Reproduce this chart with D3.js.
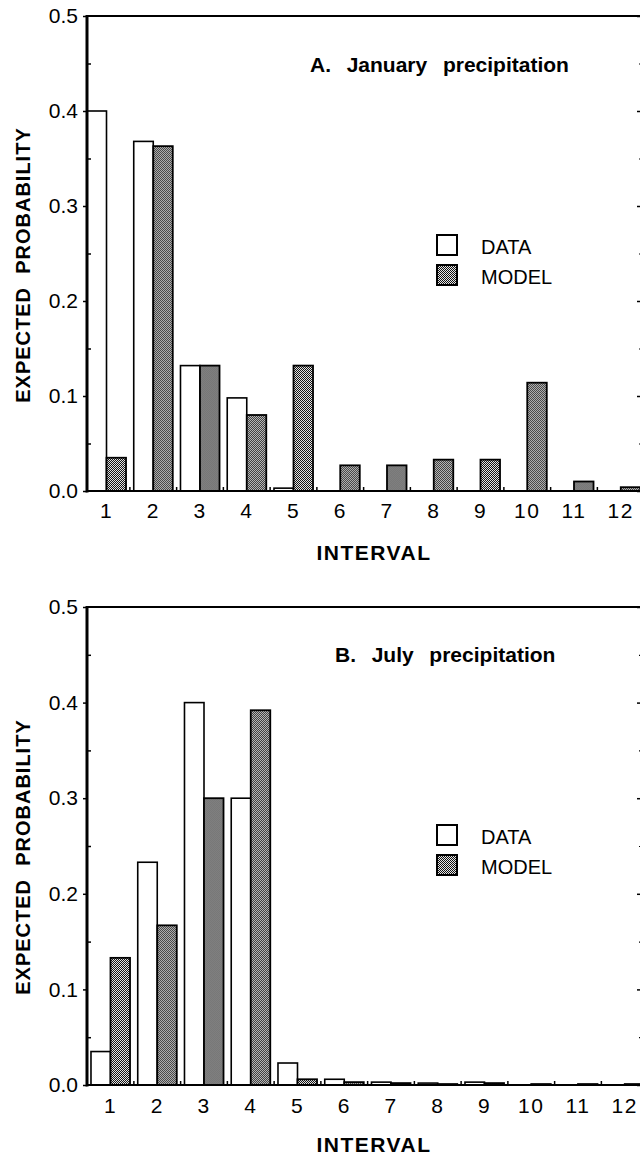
<!DOCTYPE html>
<html>
<head>
<meta charset="utf-8">
<script src="https://cdn.jsdelivr.net/npm/d3@7/dist/d3.min.js"></script>
<style>
  html, body { margin: 0; padding: 0; background: #fff; }
  svg { display: block; font-family: "Liberation Sans", Arial, Helvetica, sans-serif; }
  text { white-space: pre; }
</style>
</head>
<body>
<svg id="chart" width="640" height="1155"></svg>
<script>
// Interval categories shared by both panels
const intervals = [1, 2, 3, 4, 5, 6, 7, 8, 9, 10, 11, 12];

// A. January precipitation: observed and modelled expected probabilities
const janData  = [0.400, 0.368, 0.132, 0.098, 0.003, 0, 0, 0, 0, 0, 0, 0];
const janModel = [0.035, 0.363, 0.132, 0.080, 0.132, 0.027, 0.027, 0.033, 0.033, 0.114, 0.010, 0.004];

// B. July precipitation: observed and modelled expected probabilities
const julData  = [0.035, 0.233, 0.400, 0.300, 0.023, 0.006, 0.003, 0.002, 0.003, 0, 0, 0];
const julModel = [0.133, 0.167, 0.300, 0.392, 0.006, 0.003, 0.002, 0.001, 0.002, 0.001, 0.001, 0.001];

// Axis ticks
const yTicks = [0.0, 0.1, 0.2, 0.3, 0.4, 0.5];
const yMinorTicks = [0.05, 0.15, 0.25, 0.35, 0.45];
const legendLabels = ["DATA", "MODEL"];

const panels = [
  { title: "A.  January  precipitation", data: janData, model: janModel,
    top: 16, bottom: 491, firstCenter: 106.5, titleX: 310, titleY: 72,
    legendTop: 235, tickLabelY: 518, intervalY: 560, yLabelCenter: 265 },
  { title: "B.  July  precipitation", data: julData, model: julModel,
    top: 607, bottom: 1085, firstCenter: 110.5, titleX: 335, titleY: 662,
    legendTop: 825, tickLabelY: 1113, intervalY: 1152, yLabelCenter: 857 }
];

const axisX = 87;      // left axis position
const rightX = 642;    // right frame position
const step = 46.75;    // spacing between interval groups
const padInner = 0.165;

const svg = d3.select("#chart");

// Stippled fill for the model bars
const defs = svg.append("defs");
const pat = defs.append("pattern")
  .attr("id", "stipple").attr("patternUnits", "userSpaceOnUse")
  .attr("width", 2).attr("height", 2);
pat.append("rect").attr("width", 2).attr("height", 2).attr("fill", "#e6e6e6");
pat.append("rect").attr("x", 0).attr("y", 0).attr("width", 1).attr("height", 1).attr("fill", "#111");
pat.append("rect").attr("x", 1).attr("y", 1).attr("width", 1).attr("height", 1).attr("fill", "#111");

panels.forEach(p => {
  const g = svg.append("g");

  const y = d3.scaleLinear().domain([0, 0.5]).range([p.bottom, p.top]);
  const x = d3.scaleBand()
    .domain(intervals)
    .range([p.firstCenter - step / 2, p.firstCenter + (intervals.length - 0.5) * step])
    .paddingInner(padInner)
    .paddingOuter(padInner / 2);
  const sub = d3.scaleBand().domain(["data", "model"]).range([0, x.bandwidth()]);

  // Bars: open for data, stippled for model
  const groups = g.selectAll("g.interval")
    .data(intervals.map((d, i) => ({ k: d, data: p.data[i], model: p.model[i] })))
    .join("g").attr("class", "interval")
    .attr("transform", d => `translate(${x(d.k)},0)`);

  groups.filter(d => d.data > 0).append("rect")
    .attr("x", sub("data"))
    .attr("y", d => y(d.data))
    .attr("width", sub.bandwidth())
    .attr("height", d => y(0) - y(d.data))
    .attr("fill", "#fff").attr("stroke", "#000").attr("stroke-width", 1.6);

  groups.filter(d => d.model > 0).append("rect")
    .attr("x", sub("model"))
    .attr("y", d => y(d.model))
    .attr("width", sub.bandwidth())
    .attr("height", d => y(0) - y(d.model))
    .attr("fill", "url(#stipple)").attr("stroke", "#000").attr("stroke-width", 1.8);

  // Left axis: labelled major ticks outward, minor ticks inward
  const left = g.append("g").attr("transform", `translate(${axisX},0)`)
    .call(d3.axisLeft(y).tickValues(yTicks).tickFormat(d3.format(".1f")).tickSize(4).tickPadding(5));
  left.select(".domain").remove();
  left.selectAll(".tick line").attr("stroke", "#000").attr("stroke-width", 1.5);
  left.selectAll(".tick text").attr("font-size", 21).attr("fill", "#000")
    .attr("font-family", "Liberation Sans, Arial, sans-serif");

  const leftMinor = g.append("g").attr("transform", `translate(${axisX},0)`)
    .call(d3.axisLeft(y).tickValues(yMinorTicks).tickFormat("").tickSize(-4));
  leftMinor.select(".domain").remove();
  leftMinor.selectAll(".tick line").attr("stroke", "#000").attr("stroke-width", 1.5);

  // Right frame ticks point inward
  const right = g.append("g").attr("transform", `translate(${rightX},0)`)
    .call(d3.axisRight(y).tickValues(yTicks).tickFormat("").tickSize(-5));
  right.select(".domain").remove();
  right.selectAll(".tick line").attr("stroke", "#000").attr("stroke-width", 1.5);
  const rightMinor = g.append("g").attr("transform", `translate(${rightX},0)`)
    .call(d3.axisRight(y).tickValues(yMinorTicks).tickFormat("").tickSize(-3));
  rightMinor.select(".domain").remove();
  rightMinor.selectAll(".tick line").attr("stroke", "#000").attr("stroke-width", 1.2);

  // Frame: thick left axis, baseline, top and right edges
  g.append("line").attr("x1", axisX).attr("x2", axisX)
    .attr("y1", y(0.5) - 1).attr("y2", y(0) + 1.5)
    .attr("stroke", "#000").attr("stroke-width", 3);
  g.append("line").attr("x1", axisX).attr("x2", rightX)
    .attr("y1", y(0.5)).attr("y2", y(0.5))
    .attr("stroke", "#000").attr("stroke-width", 2);
  g.append("line").attr("x1", axisX).attr("x2", rightX)
    .attr("y1", y(0)).attr("y2", y(0))
    .attr("stroke", "#000").attr("stroke-width", 2.2);
  g.append("line").attr("x1", rightX).attr("x2", rightX)
    .attr("y1", y(0.5)).attr("y2", y(0))
    .attr("stroke", "#000").attr("stroke-width", 2);

  // Small upward ticks between interval groups on the baseline
  const bounds = intervals.slice(1).map(k => x(k) - x.step() * padInner / 2);
  g.selectAll("line.bound").data(bounds).join("line").attr("class", "bound")
    .attr("x1", d => d).attr("x2", d => d)
    .attr("y1", y(0)).attr("y2", y(0) - 4)
    .attr("stroke", "#000").attr("stroke-width", 1.5);

  // Interval labels
  const bottomAxis = g.append("g").attr("transform", `translate(0,${p.tickLabelY})`)
    .call(d3.axisBottom(x).tickSize(0).tickPadding(0));
  bottomAxis.select(".domain").remove();
  bottomAxis.selectAll(".tick text").attr("font-size", 21).attr("fill", "#000")
    .attr("dy", 0).attr("letter-spacing", "1.5px")
    .attr("font-family", "Liberation Sans, Arial, sans-serif");

  // Panel title
  g.append("text").attr("x", p.titleX).attr("y", p.titleY)
    .attr("font-size", 21).attr("font-weight", "bold").attr("word-spacing", "2px")
    .text(p.title);

  // Legend
  const leg = g.append("g").attr("transform", `translate(437,${p.legendTop})`);
  legendLabels.forEach((lab, i) => {
    leg.append("rect").attr("x", 0).attr("y", i * 30).attr("width", 20).attr("height", 20)
      .attr("fill", i === 0 ? "#fff" : "url(#stipple)")
      .attr("stroke", "#000").attr("stroke-width", 2);
    leg.append("text").attr("x", 44).attr("y", i * 30 + 19)
      .attr("font-size", 20).text(lab);
  });

  // Axis titles
  g.append("text")
    .attr("transform", `translate(30,${p.yLabelCenter}) rotate(-90)`)
    .attr("text-anchor", "middle").attr("font-size", 20).attr("font-weight", "bold")
    .attr("letter-spacing", "1px")
    .text("EXPECTED  PROBABILITY");
  g.append("text").attr("x", 374).attr("y", p.intervalY)
    .attr("text-anchor", "middle").attr("font-size", 21).attr("font-weight", "bold")
    .attr("letter-spacing", "1.5px")
    .text("INTERVAL");
});
</script>
</body>
</html>
